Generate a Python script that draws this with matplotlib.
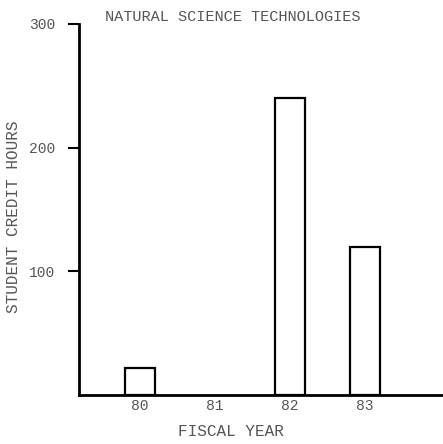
import matplotlib.pyplot as plt

years = [80, 81, 82, 83]
year_labels = ['80', '81', '82', '83']
hours = [22, 0, 240, 120]

plt.rcParams['font.family'] = ['Liberation Mono', 'DejaVu Sans Mono']

fig = plt.figure(figsize=(4.43, 4.44), dpi=100)
ax = fig.add_axes([79 / 443, 49 / 444, 364 / 443, 371 / 444])

# only the years with a value get a bar (81 is empty)
bx = [y for y, h in zip(years, hours) if h > 0]
bh = [h for h in hours if h > 0]
ax.bar(bx, bh, width=0.4, color='white', edgecolor='black', linewidth=1.6)

ax.set_xlim(79.19, 84.04)
ax.set_ylim(0, 300)

ax.spines['top'].set_visible(False)
ax.spines['right'].set_visible(False)
ax.spines['left'].set_linewidth(2)
ax.spines['bottom'].set_linewidth(2)

txt = '#555555'
ax.set_yticks([100, 200, 300])
ax.set_yticklabels(['100', '200', '300'], fontsize=10.5, color=txt)
ax.tick_params(axis='y', direction='out', length=8, width=1.5, pad=9)
ax.set_xticks(years)
ax.set_xticklabels(year_labels, fontsize=10.5, color=txt)
ax.tick_params(axis='x', length=0, pad=3)

ax.set_title('NATURAL SCIENCE TECHNOLOGIES', fontsize=11, color=txt, pad=2, x=0.423)
ax.set_ylabel('STUDENT CREDIT HOURS', fontsize=11.5, color=txt)
ax.yaxis.set_label_coords(-0.158, 0.48)
ax.set_xlabel('FISCAL YEAR', fontsize=11.5, color=txt)
ax.xaxis.set_label_coords(0.418, -0.078)

fig.savefig('out.png', dpi=100)
